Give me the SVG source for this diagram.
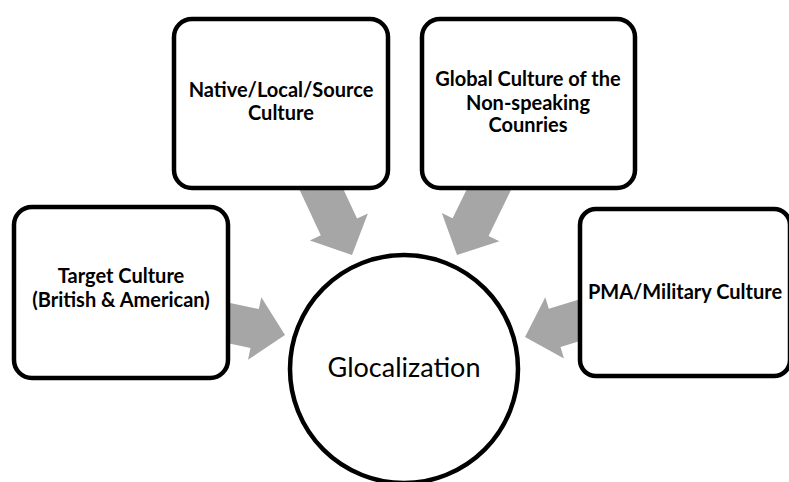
<svg xmlns="http://www.w3.org/2000/svg" width="789" height="482" viewBox="0 0 789 482">
  <defs>
    <!-- block arrow: tip at origin, pointing along +x -->
    <polygon id="blockArrow" points="0,0 -31,-32 -31,-20 -95,-20 -95,20 -31,20 -31,32"/>
    <style>
      .arrow { fill: #a6a6a6; }
      .box { fill: #ffffff; stroke: #000000; stroke-width: 4.5; }
      .label { font-family: "Lato", "Liberation Sans", sans-serif; font-weight: bold; font-size: 20px; fill: #000000; text-anchor: middle; }
      .hub { font-family: "Lato", "Liberation Sans", sans-serif; font-size: 27px; fill: #000000; text-anchor: middle; }
    </style>
  </defs>

  <rect width="789" height="482" fill="#ffffff"/>

  <!-- connectors: gray block arrows converging on the hub -->
  <g id="connectors" class="arrow">
    <use href="#blockArrow" transform="translate(285,335) rotate(12)"/>
    <use href="#blockArrow" transform="translate(352,255) rotate(65)"/>
    <use href="#blockArrow" transform="translate(457,255) rotate(116)"/>
    <use href="#blockArrow" transform="translate(525,337) rotate(163)"/>
  </g>

  <g id="target-culture">
    <rect class="box" x="14" y="207" width="214" height="171" rx="18"/>
    <text class="label" x="121" y="283">Target Culture</text>
    <text class="label" x="121" y="307">(British &amp; American)</text>
  </g>

  <g id="native-culture">
    <rect class="box" x="174" y="19" width="214" height="169" rx="18"/>
    <text class="label" x="281" y="97">Native/Local/Source</text>
    <text class="label" x="281" y="120">Culture</text>
  </g>

  <g id="global-culture">
    <rect class="box" x="422" y="19" width="213" height="169" rx="18"/>
    <text class="label" x="528" y="86">Global Culture of the</text>
    <text class="label" x="528" y="110">Non-speaking</text>
    <text class="label" x="528" y="132">Counries</text>
  </g>

  <g id="military-culture">
    <rect class="box" x="580" y="209" width="210" height="167" rx="16"/>
    <text class="label" x="685" y="299">PMA/Military Culture</text>
  </g>

  <g id="glocalization">
    <circle class="box" cx="404" cy="369" r="114"/>
    <text class="hub" x="404" y="377">Glocalization</text>
  </g>
</svg>
